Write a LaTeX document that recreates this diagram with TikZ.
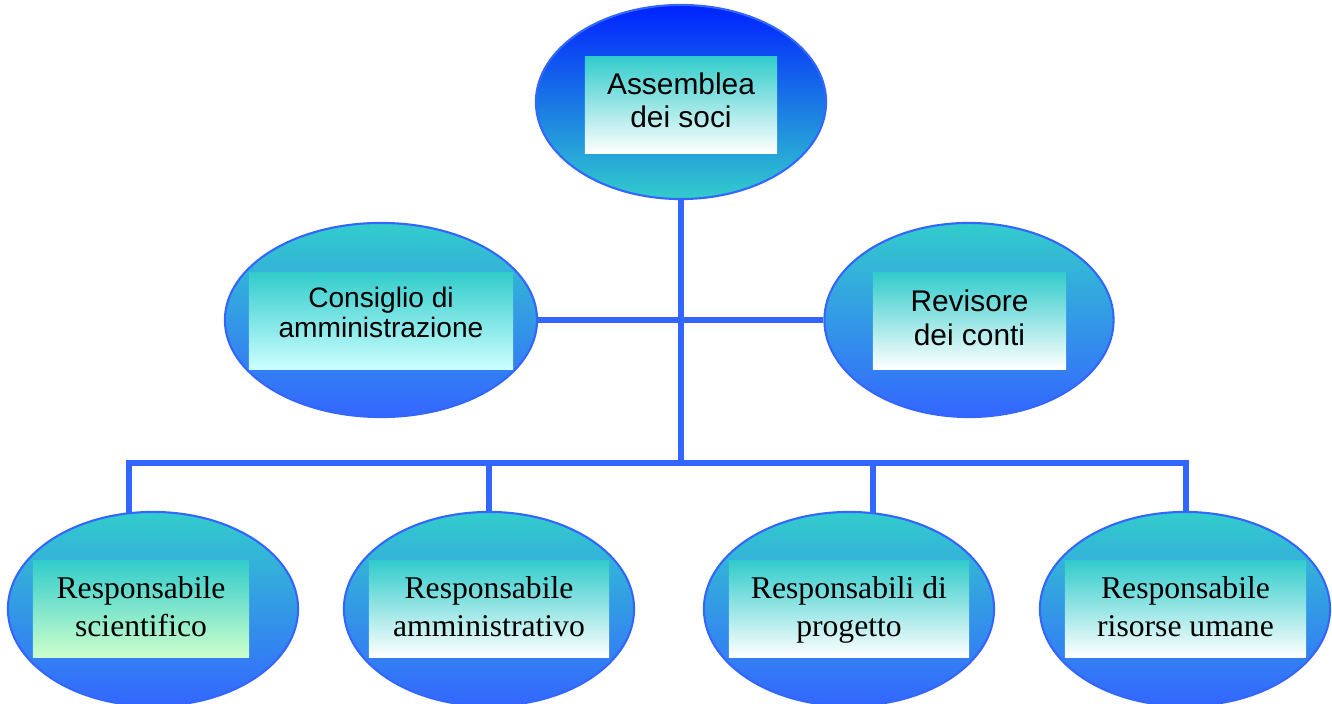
\documentclass[tikz,border=0pt]{standalone}
\usepackage{fontspec}
\setmainfont{Liberation Serif}
\newfontfamily\titlefont{Liberation Sans}
\usetikzlibrary{shapes.geometric}
\usetikzlibrary{backgrounds}
\definecolor{tealc}{HTML}{33CCCC}
\definecolor{bluec}{HTML}{3366FF}
\definecolor{deepblue}{HTML}{0022FF}
\definecolor{palecyan}{HTML}{CCFFFF}
\definecolor{palegreen}{HTML}{CCFFCC}
\tikzset{
  office/.style={ellipse, draw=bluec, line width=0.6pt, inner sep=0, top color=tealc, bottom color=bluec, minimum height=1.94cm},
  tag/.style={rectangle, inner sep=0, top color=tealc, bottom color=white, minimum height=0.96cm, align=center,
    text height=18pt, text depth=2.2pt},
  link/.style={draw=bluec, line width=1.5pt}
}
\begin{document}
\begin{tikzpicture}[x=0.01cm, y=-0.01cm]
\useasboundingbox (0,0) rectangle (1332,704);
% top level
\node[office, minimum width=2.9cm, top color=deepblue, bottom color=tealc] (assemblea) at (681,102) {};
\node[tag, minimum width=1.92cm, text height=15pt, text depth=2pt, font=\titlefont\fontsize{8.5}{9.4}\selectfont] (assemblea-t) at (681,105) {Assemblea\\dei soci};
% middle level
\node[office, minimum width=3.12cm] (consiglio) at (381,320) {};
\node[tag, minimum width=2.64cm, bottom color=palecyan, text height=12pt, text depth=2.4pt, font=\titlefont\fontsize{8}{8.5}\selectfont] (consiglio-t) at (381,321) {Consiglio di\\amministrazione};
\node[office, minimum width=2.89cm] (revisore) at (969,320) {};
\node[tag, minimum width=1.93cm, text height=16pt, text depth=1.8pt, font=\titlefont\fontsize{8.5}{9.9}\selectfont] (revisore-t) at (969.5,321) {Revisore\\dei conti};
% bottom level
\foreach \name/\x/\cx/\w/\txt/\lowc in {scientifico/153/141/2.16/{Responsabile\\scientifico}/palegreen,
  amministrativo/489/489/2.4/{Responsabile\\amministrativo}/white,
  progetto/849/849/2.4/{Responsabili di\\progetto}/white,
  risorse/1185/1185.5/2.41/{Responsabile\\risorse umane}/white} {
  \node[office, minimum width=2.9cm] (\name) at (\x,609) {};
  \node[tag, minimum width=\w cm, bottom color=\lowc, font=\fontsize{9}{11}\selectfont] (\name-t) at (\cx,609) {\txt};
}
% connectors
\coordinate (hub) at (681,463);
\coordinate (barL) at (129,463);
\coordinate (barR) at (1186,463);
\coordinate (dropP) at (873,463);
\begin{scope}[on background layer]
\draw[link] (assemblea.south) -- (hub);
\draw[link] (consiglio.east) -- (revisore.west);
\draw[link] (barL |- scientifico.center) -- (barL) -- (barR) -- (barR |- risorse.center);
\draw[link] (amministrativo.center |- hub) -- (amministrativo.center);
\draw[link] (dropP) -- (dropP |- progetto.center);
\end{scope}
\end{tikzpicture}
\end{document}
